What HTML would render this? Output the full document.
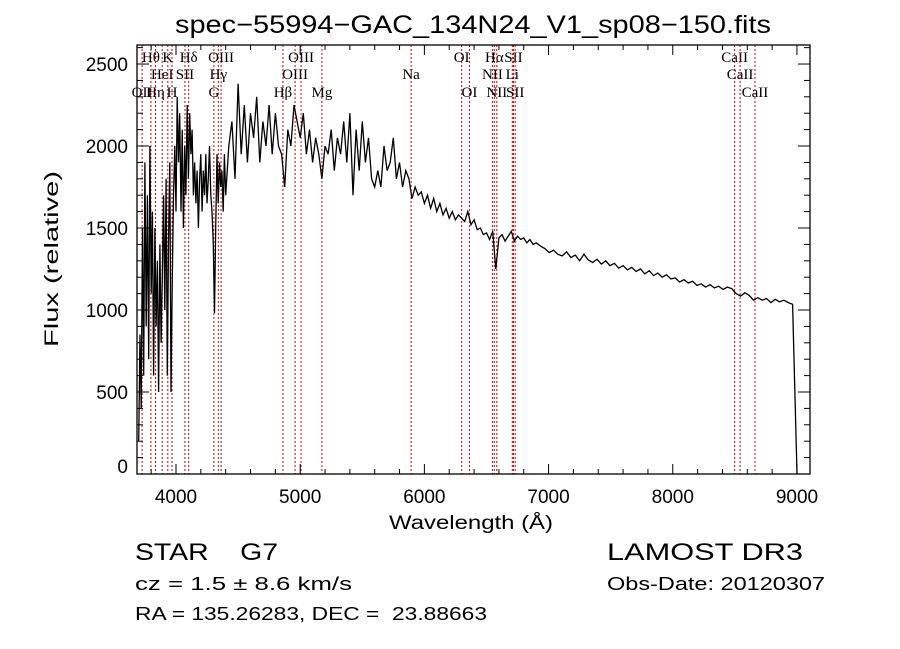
<!DOCTYPE html>
<html><head><meta charset="utf-8"><style>
html,body{margin:0;padding:0;background:#fff;width:900px;height:649px;overflow:hidden}
svg{display:block}
text{font-family:"Liberation Sans",sans-serif;fill:#000;white-space:pre}
</style></head><body>
<svg id="chart" width="900" height="649" viewBox="0 0 900 649" xmlns="http://www.w3.org/2000/svg" xml:space="preserve">
<rect width="900" height="649" fill="#fff"/>
<text x="473" y="33" text-anchor="middle" font-size="25" textLength="596" lengthAdjust="spacingAndGlyphs">spec−55994−GAC_134N24_V1_sp08−150.fits</text>
<g id="lines"></g>
<path id="spec" fill="none" stroke="#000" stroke-width="1.3"/>
<g id="axes"></g>
<text x="471" y="529" text-anchor="middle" font-size="19" textLength="164" lengthAdjust="spacingAndGlyphs">Wavelength (Å)</text>
<text transform="translate(58,259) rotate(-90)" text-anchor="middle" font-size="19" textLength="176" lengthAdjust="spacingAndGlyphs">Flux (relative)</text>
<text x="135" y="560" font-size="24" textLength="143" lengthAdjust="spacingAndGlyphs">STAR    G7</text>
<text x="607" y="560" font-size="24" textLength="196" lengthAdjust="spacingAndGlyphs">LAMOST DR3</text>
<text x="135" y="590" font-size="18" textLength="217" lengthAdjust="spacingAndGlyphs">cz = 1.5 ± 8.6 km/s</text>
<text x="607" y="590" font-size="18" textLength="218" lengthAdjust="spacingAndGlyphs">Obs-Date: 20120307</text>
<text x="135" y="620" font-size="18" textLength="352" lengthAdjust="spacingAndGlyphs">RA = 135.26283, DEC =  23.88663</text>
</svg>
<script>
const blueFlux=[200,850,400,1500,600,1900,900,1700,700,2000,1100,1600,600,1500,900,1300,500,1400,800,1200,1700,1000,1800,600,1400,1900,500,1200,1700,2000,1600,2300,1900,2200,1600,2100,1500,2000,1700,2250,1800,2200,1950,2100,1700,1900,1650,1850,1500,1800,1950,1600,1850,1700,1950,1650,1800,2000,1700,1600,1400,980,1500,1950,1650,1900,1750,1850,1600,1950,1700];
const midFlux=[2000,2150,1800,2380,1950,2250,1900,2200,2050,2300,1900,2150,2000,2250,1950,2200,2000,1950,1750,2100,2000,2250,2150,2050,2200,1950,2100,1900,2050,1950,1800,2000,1950,2100,1850,2050,1950,2150,1900,2200,1700,2100,1850,2150,1900,2050,1800,1750,1850,1750,2000,1850,1900,2050,1800,1900,1750,1850,1800,1680,1750,1700,1720,1650,1700,1620,1680,1600,1650,1580,1620,1560,1600,1550,1580,1560,1540,1600,1520,1550,1490,1500,1460,1470,1430,1480,1250,1440,1460,1420,1450,1480,1420,1450,1430,1440,1410,1430,1400,1410];
const redFlux=[1390,1375,1350,1365,1340,1330,1355,1320,1335,1300,1340,1305,1290,1310,1280,1300,1270,1285,1255,1270,1245,1260,1235,1250,1220,1240,1210,1225,1200,1215,1190,1195,1170,1185,1165,1175,1150,1160,1140,1155,1135,1145,1125,1140,1130,1100,1085,1105,1090,1060,1075,1060,1070,1045,1065,1050,1060,1045,1035,0];
const xTicks=[4000,5000,6000,7000,8000,9000];
const yTicks=[0,500,1000,1500,2000,2500];
const lineWaves=[3727,3798,3835,3889,3934,3968,4072,4102,4305,4341,4363,4861,4959,5007,5175,5893,6300,6363,6548,6563,6583,6708,6717,6731,8498,8542,8662];
const lineLabels=["OII","Hθ","Hη","HeI","K","H","SII","Hδ","G","Hγ","OIII","Hβ","OIII","OIII","Mg","Na","OI","OI","NII","Hα","NII","Li","SII","SII","CaII","CaII","CaII"];
const lineRows=[2,0,2,1,0,2,1,0,2,1,0,2,1,0,2,1,0,2,1,0,2,1,0,2,0,1,2];

const X0=137,X1=810,Y0=45,Y1=474;
const WMIN=3686,WMAX=9105,FMAX=2616;
const sx=w=>X0+(w-WMIN)/(WMAX-WMIN)*(X1-X0);
const sy=f=>Y1-f/FMAX*(Y1-Y0);
const NS='http://www.w3.org/2000/svg';
function mk(tag,attrs,parent){const e=document.createElementNS(NS,tag);for(const k in attrs)e.setAttribute(k,attrs[k]);parent.appendChild(e);return e;}

const wl=[],fl=[];
blueFlux.forEach((f,i)=>{wl.push(3700+10*i);fl.push(f);});
midFlux.forEach((f,i)=>{wl.push(4425+25*i);fl.push(f);});
redFlux.forEach((f,i)=>{wl.push(6935+35*i);fl.push(f);});
let d='';
wl.forEach((w,i)=>{d+=(i?'L':'M')+sx(w).toFixed(1)+' '+Math.min(Y1,sy(fl[i])).toFixed(1);});
document.getElementById('spec').setAttribute('d',d);

const lg=document.getElementById('lines');
const rowY=[62,79,97];
lineWaves.forEach((w,i)=>{
  const x=sx(w);
  const l=mk('line',{x1:x,x2:x,y1:Y0,y2:Y1,stroke:'#d00000','stroke-width':1,'stroke-dasharray':'2,2'},lg);
  
  
  const t=mk('text',{x:x,y:rowY[lineRows[i]],'text-anchor':'middle','font-size':15,style:'font-family:"Liberation Serif",serif'},lg);
  t.textContent=lineLabels[i];
  
  
});

const ag=document.getElementById('axes');
const fr=mk('rect',{x:X0,y:Y0,width:X1-X0,height:Y1-Y0,fill:'none',stroke:'#000','stroke-width':1.3},ag);


for(let w=3800;w<=9100;w+=200){
  const x=sx(w),maj=w%1000===0,len=maj?10:5;
  mk('line',{x1:x,x2:x,y1:Y1,y2:Y1-len,stroke:'#000','stroke-width':1},ag);
  mk('line',{x1:x,x2:x,y1:Y0,y2:Y0+len,stroke:'#000','stroke-width':1},ag);
}
for(let f=0;f<=2600;f+=100){
  const y=sy(f),maj=f%500===0,len=maj?12:6;
  mk('line',{x1:X0,x2:X0+len,y1:y,y2:y,stroke:'#000','stroke-width':1},ag);
  mk('line',{x1:X1,x2:X1-len,y1:y,y2:y,stroke:'#000','stroke-width':1},ag);
}
xTicks.forEach(w=>{
  const t=mk('text',{x:sx(w),y:503,'text-anchor':'middle','font-size':19},ag);
  t.textContent=String(w);
  
  
});
yTicks.forEach(f=>{
  const t=mk('text',{x:128,y:Math.min(sy(f)+7,473),'text-anchor':'end','font-size':19},ag);
  t.textContent=String(f);
  
  
});
</script>
</body></html>
